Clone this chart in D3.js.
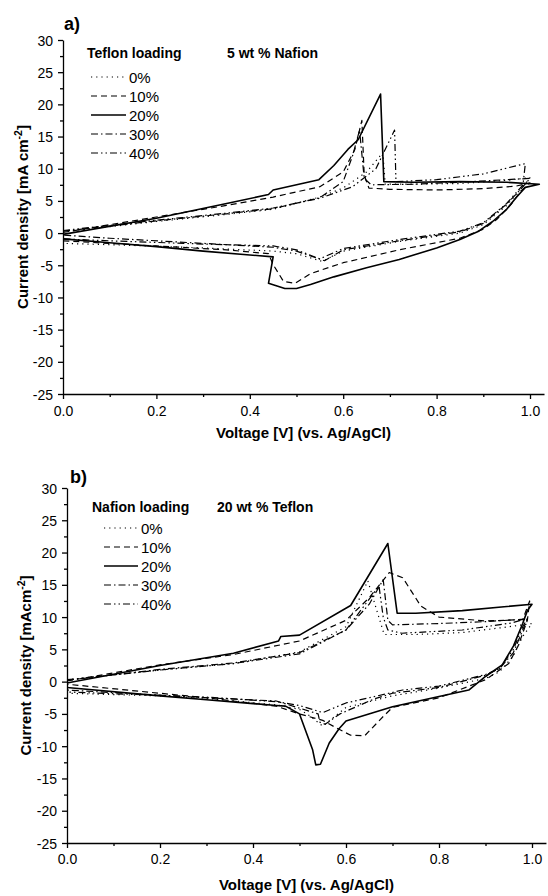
<!DOCTYPE html>
<html>
<head>
<meta charset="utf-8">
<script src="https://cdn.jsdelivr.net/npm/d3@7"></script>
<style>
body { margin: 0; background: #fff; }
svg { display: block; font-family: "Liberation Sans", Arial, sans-serif; }
</style>
</head>
<body>
<div id="chart"></div>
<script>
// legend labels and tick values
const loadings = ["0%", "10%", "20%", "30%", "40%"];
const xTicks = [0, 0.2, 0.4, 0.6, 0.8, 1.0];
const xMinor = [0.1, 0.3, 0.5, 0.7, 0.9];
const yTicks = [-25, -20, -15, -10, -5, 0, 5, 10, 15, 20, 25, 30];
const yMinor = [-22.5, -17.5, -12.5, -7.5, -2.5, 2.5, 7.5, 12.5, 17.5, 22.5, 27.5];

// panel a) Teflon loading, 5 wt % Nafion  -- [V, mA cm-2], forward then reverse scan
const a0 = [[0,0.2],[0.2,1.8],[0.35,2.9],[0.45,3.7],[0.55,5.6],[0.6,7.0],[0.65,9.5],[0.685,12.5],[0.69,7.6],[0.75,7.6],[0.85,7.7],[0.95,8.2],[1.0,8.6],
  [0.98,6.8],[0.95,4.3],[0.9,1.3],[0.85,0.0],[0.72,-1.3],[0.6,-2.8],[0.555,-4.4],[0.5,-3.2],[0.45,-2.8],[0.3,-2.3],[0.1,-1.8],[0,-1.6]];
const a10 = [[0,0.1],[0.2,2.5],[0.35,4.3],[0.45,5.6],[0.55,7.2],[0.6,9.5],[0.625,13],[0.64,17.5],[0.645,9],[0.655,7.0],[0.7,6.8],[0.8,6.7],[0.9,6.9],[0.97,7.3],[1.0,7.8],
  [0.98,6.5],[0.96,4.5],[0.93,2.2],[0.9,0.6],[0.85,-0.8],[0.72,-2.6],[0.6,-4.6],[0.53,-6.3],[0.497,-7.8],[0.472,-7.5],[0.45,-4.9],[0.44,-3.2],[0.35,-2.6],[0.2,-2.0],[0.1,-1.6],[0,-1.2]];
const a20 = [[0,-0.2],[0.2,2.3],[0.358,4.7],[0.44,6.0],[0.45,6.7],[0.548,8.3],[0.58,10.5],[0.61,13],[0.632,14.5],[0.68,21.6],[0.687,8.0],[0.75,7.9],[0.85,8.0],[0.95,7.9],[1.02,7.6],
  [0.99,7.1],[0.97,5.5],[0.95,3.7],[0.92,1.8],[0.89,0.3],[0.85,-1.0],[0.8,-2.3],[0.72,-4.1],[0.65,-5.4],[0.58,-6.8],[0.53,-8.0],[0.5,-8.6],[0.475,-8.6],[0.44,-7.8],[0.45,-3.7],[0.4,-3.4],[0.3,-2.8],[0.2,-2.1],[0.1,-1.5],[0,-0.9]];
const a30 = [[0,0.3],[0.2,1.9],[0.35,3.0],[0.45,3.8],[0.55,5.5],[0.6,8],[0.62,12],[0.635,16],[0.645,8.5],[0.66,7.5],[0.75,7.6],[0.85,7.9],[0.95,8.3],[1.0,8.5],
  [0.98,6.8],[0.95,4.5],[0.9,1.5],[0.85,0.2],[0.72,-1.2],[0.6,-2.6],[0.56,-4.3],[0.5,-2.8],[0.45,-2.2],[0.3,-1.6],[0.1,-0.8],[0,-0.3]];
const a40 = [[0,0.4],[0.2,2.0],[0.35,3.1],[0.45,3.9],[0.55,5.4],[0.62,7.2],[0.67,10],[0.71,16],[0.713,8.0],[0.8,8.3],[0.9,9.2],[0.99,10.8],
  [0.985,7.5],[0.95,4.6],[0.9,1.6],[0.85,0.3],[0.72,-1.0],[0.6,-2.4],[0.55,-4.0],[0.5,-2.6],[0.45,-2.0],[0.3,-1.7],[0.1,-1.2],[0,-0.9]];

// panel b) Nafion loading, 20 wt % Teflon
const b0 = [[0,0.3],[0.2,1.8],[0.358,2.8],[0.5,4.6],[0.6,8.5],[0.647,15.6],[0.682,7.3],[0.75,7.3],[0.85,7.6],[0.95,8.5],[1.0,9.0],
  [0.98,7],[0.96,4],[0.93,1.5],[0.9,0.5],[0.8,-1.0],[0.7,-2.2],[0.6,-4.0],[0.55,-6.9],[0.52,-5.2],[0.5,-4.3],[0.45,-3.6],[0.3,-2.6],[0.2,-2.2],[0,-1.8]];
const b10 = [[0,0.1],[0.2,2.6],[0.358,4.2],[0.5,6.3],[0.6,9.5],[0.65,13],[0.693,16.9],[0.722,16.1],[0.761,11.7],[0.8,10.0],[0.9,9.4],[0.98,9.6],[0.995,12.5],
  [0.99,9.5],[0.97,5.5],[0.95,2.8],[0.9,0.3],[0.8,-2.5],[0.7,-4.0],[0.68,-5.4],[0.64,-8.4],[0.61,-8.3],[0.58,-7.2],[0.55,-6.0],[0.5,-5.0],[0.45,-3.8],[0.3,-2.5],[0.2,-1.8],[0,-0.4]];
const b20 = [[0,-0.2],[0.2,2.5],[0.358,4.4],[0.455,6.3],[0.46,7.0],[0.5,7.2],[0.61,11.8],[0.69,21.4],[0.71,10.6],[0.75,10.6],[0.85,11.0],[0.94,11.6],[1.0,12.0],
  [0.99,11],[0.98,9],[0.96,5.5],[0.936,2.6],[0.9,0.8],[0.864,-1.3],[0.8,-2.3],[0.7,-3.9],[0.6,-6.1],[0.585,-7.3],[0.564,-9.5],[0.545,-12.8],[0.535,-12.9],[0.528,-10.5],[0.5,-5],[0.47,-3.8],[0.45,-3.7],[0.3,-2.8],[0.2,-2.2],[0,-0.9]];
const b30 = [[0,0.2],[0.2,1.9],[0.358,2.9],[0.5,4.5],[0.6,8],[0.65,12],[0.68,15.8],[0.69,9.5],[0.7,8.8],[0.8,9.0],[0.9,9.3],[0.99,9.7],
  [0.98,8],[0.96,4.5],[0.93,2],[0.9,1.0],[0.8,-0.9],[0.7,-1.8],[0.66,-2.7],[0.587,-5.0],[0.555,-6.6],[0.544,-6.3],[0.54,-5.0],[0.45,-3.0],[0.3,-2.5],[0.2,-2.1],[0,-1.3]];
const b40 = [[0,0.3],[0.2,1.8],[0.358,2.8],[0.5,4.3],[0.6,8.0],[0.671,14.8],[0.68,10],[0.69,8],[0.72,7.5],[0.85,8.0],[0.957,9.1],[0.99,9.8],
  [0.98,8.5],[0.96,5],[0.93,2],[0.9,1.1],[0.8,-0.7],[0.722,-1.3],[0.65,-2.5],[0.6,-3.3],[0.55,-4.8],[0.5,-3.7],[0.45,-3.1],[0.3,-2.4],[0,-1.6]];

const dashes = ["1.2,4", "6,4", null, "7,3,1.5,3", "7,3,1.5,3,1.5,3"];
const widths = [1.2, 1.2, 1.6, 1.2, 1.2];

const svg = d3.select("#chart").append("svg")
  .attr("width", 548).attr("height", 896);

const panels = [
  {tag: "a)", tagX: 64, tagY: 30, left: 63, top: 40, bottom: 394, pxPerV: 467, tickPad: 7,
   series: [a0, a10, a20, a30, a40],
   legendTitle: "Teflon loading", legendX: 87, legendTitleY: 58, legendY: 77, legendLine: [91, 126],
   note: "5 wt % Nafion", noteX: 227, ylabel: ["Current density [mA cm", "]"], ylabelX: 28, xlabelY: 438},
  {tag: "b)", tagX: 70, tagY: 483, left: 67, top: 488, bottom: 843, pxPerV: 465, tickPad: 6,
   series: [b0, b10, b20, b30, b40],
   legendTitle: "Nafion loading", legendX: 92, legendTitleY: 512, legendY: 528, legendLine: [104, 138],
   note: "20 wt % Teflon", noteX: 217, ylabel: ["Current density [mAcm", "]"], ylabelX: 31, xlabelY: 890}
];

panels.forEach(function(p) {
  let x = d3.scaleLinear().domain([0, 1.03]).range([p.left, p.left + 1.03 * p.pxPerV]);
  let y = d3.scaleLinear().domain([-25, 30]).range([p.bottom, p.top]);
  let g = svg.append("g");

  // axes (major + minor ticks, outward)
  g.append("g").attr("transform", `translate(0,${p.bottom})`)
    .call(d3.axisBottom(x).tickValues(xMinor).tickSize(3).tickFormat("").tickSizeOuter(0))
    .call(a => a.select(".domain").remove());
  g.append("g").attr("transform", `translate(${p.left},0)`)
    .call(d3.axisLeft(y).tickValues(yMinor).tickSize(3).tickFormat("").tickSizeOuter(0))
    .call(a => a.select(".domain").remove());
  let xa = g.append("g").attr("transform", `translate(0,${p.bottom})`)
    .call(d3.axisBottom(x).tickValues(xTicks).tickSize(5).tickPadding(p.tickPad).tickSizeOuter(0).tickFormat(d3.format(".1f")));
  let ya = g.append("g").attr("transform", `translate(${p.left},0)`)
    .call(d3.axisLeft(y).tickValues(yTicks).tickSize(5).tickPadding(5).tickSizeOuter(0).tickFormat(d => String(d)));
  g.selectAll(".domain, .tick line").attr("stroke", "#000").attr("stroke-width", 1.3);
  g.selectAll(".tick text").attr("fill", "#000").style("font-size", "14px")
    .style("font-family", '"Liberation Sans", Arial, sans-serif');
  ya.selectAll(".tick text").attr("dy", "0.36em");

  // curves
  let line = d3.line().x(d => x(d[0])).y(d => y(d[1]));
  p.series.forEach(function(s, i) {
    g.append("path").datum(s)
      .attr("d", line)
      .attr("fill", "none")
      .attr("stroke", "#000")
      .attr("stroke-width", widths[i])
      .attr("stroke-dasharray", dashes[i])
      .attr("stroke-linejoin", "round");
  });

  // legend
  g.append("text").attr("x", p.legendX).attr("y", p.legendTitleY)
    .style("font-size", "14px").style("font-weight", "bold").text(p.legendTitle);
  g.append("text").attr("x", p.noteX).attr("y", p.legendTitleY)
    .style("font-size", "14px").style("font-weight", "bold").text(p.note);
  loadings.forEach(function(name, i) {
    let ly = p.legendY + i * 19;
    g.append("line")
      .attr("x1", p.legendLine[0]).attr("x2", p.legendLine[1])
      .attr("y1", ly).attr("y2", ly)
      .attr("stroke", "#000").attr("stroke-width", widths[i])
      .attr("stroke-dasharray", dashes[i]);
    g.append("text").attr("x", p.legendLine[1] + 3).attr("y", ly + 5.5)
      .style("font-size", "15px").text(name);
  });

  // panel tag and axis titles
  g.append("text").attr("x", p.tagX).attr("y", p.tagY)
    .style("font-size", "18px").style("font-weight", "bold").text(p.tag);
  g.append("text")
    .attr("x", (x(0) + x(1.03)) / 2).attr("y", p.xlabelY)
    .attr("text-anchor", "middle")
    .style("font-size", "15px").style("font-weight", "bold")
    .text("Voltage [V] (vs. Ag/AgCl)");
  let yl = g.append("text")
    .attr("transform", `translate(${p.ylabelX},${(p.top + p.bottom) / 2}) rotate(-90)`)
    .attr("text-anchor", "middle")
    .style("font-size", "15px").style("font-weight", "bold");
  yl.append("tspan").text(p.ylabel[0]);
  yl.append("tspan").attr("dy", -6).style("font-size", "10.5px").text("-2");
  yl.append("tspan").attr("dy", 6).text(p.ylabel[1]);
});
</script>
</body>
</html>
